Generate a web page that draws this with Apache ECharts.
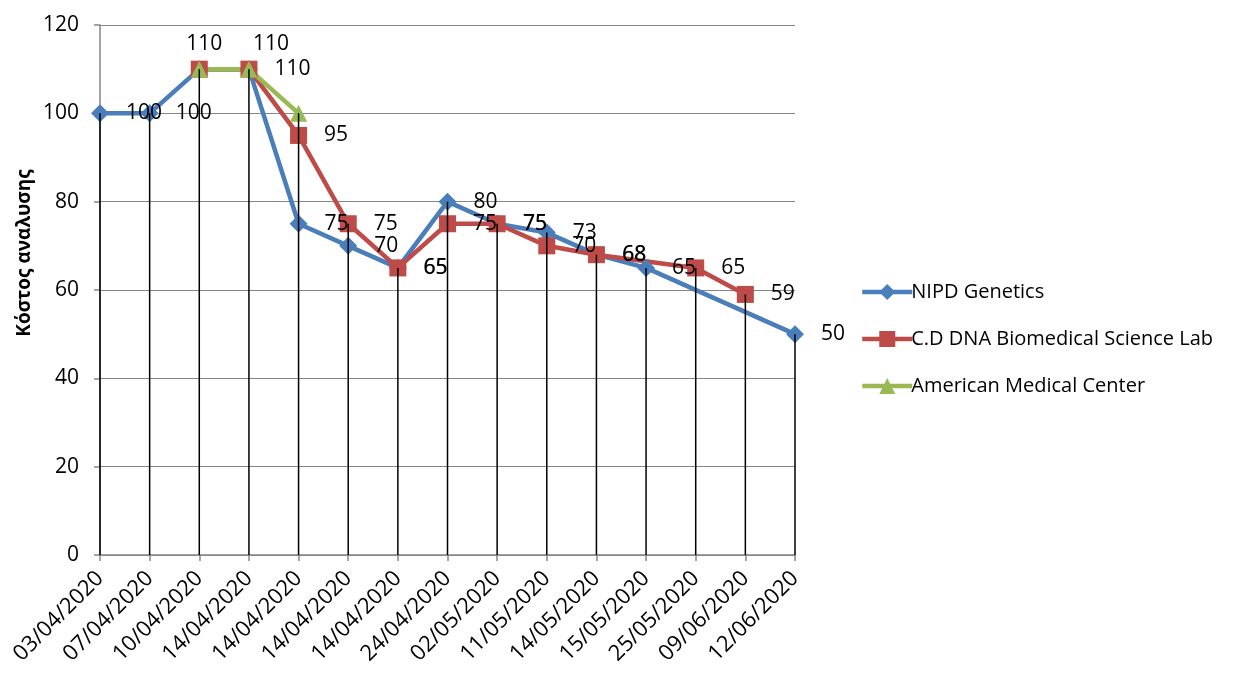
<!DOCTYPE html>
<html>
<head>
<meta charset="utf-8">
<script src="https://cdn.jsdelivr.net/npm/echarts@6/dist/echarts.min.js"></script>
<style>
  html, body { margin: 0; padding: 0; background: #fff; }
  #chart { width: 1241px; height: 673px; }
</style>
</head>
<body>
<div id="chart"></div>
<script>
// dates on the x axis
const categories = ['03/04/2020', '07/04/2020', '10/04/2020', '14/04/2020', '14/04/2020',
  '14/04/2020', '14/04/2020', '24/04/2020', '02/05/2020', '11/05/2020',
  '14/05/2020', '15/05/2020', '25/05/2020', '09/06/2020', '12/06/2020'];

const nipdGenetics = [100, 100, 110, 110, 75, 70, 65, 80, 75, 73, 68, 65, null, null, 50];
const cdDnaLab = [null, null, 110, 110, 95, 75, 65, 75, 75, 70, 68, null, 65, 59, null];
const americanMedical = [null, null, 110, 110, 100, null, null, null, null, null, null, null, null, null, null];

const yTicks = [0, 20, 40, 60, 80, 100, 120];

const FONT = '"Open Sans", "Noto Sans", sans-serif';

// max of the three series at each date -> drop line top
const dropTops = categories.map(function (c, i) {
  const vals = [nipdGenetics[i], cdDnaLab[i], americanMedical[i]].filter(v => v != null);
  return [i, Math.max.apply(null, vals)];
});

function withLabels(values, hidden, tops) {
  return values.map(function (v, i) {
    if (v == null) return null;
    const item = { value: v };
    if (hidden.indexOf(i) >= 0) {
      item.label = { show: false };
    } else if (tops[i]) {
      item.label = { position: 'top', distance: 6, offset: tops[i] };
    }
    return item;
  });
}

const chart = echarts.init(document.getElementById('chart'));

const labelStyle = {
  show: true,
  position: 'right',
  distance: 17,
  color: '#000',
  fontFamily: FONT,
  fontSize: 21
};

const option = {
  animation: false,
  grid: {
    left: 100,
    right: 446,
    top: 25,
    bottom: 118
  },
  legend: {
    orient: 'vertical',
    left: 855,
    top: 277,
    itemWidth: 50,
    itemHeight: 20,
    itemGap: 27,
    data: ['NIPD Genetics', 'C.D DNA Biomedical Science Lab', 'American Medical Center'],
    lineStyle: { width: 4.5 },
    textStyle: {
      color: '#000',
      fontFamily: FONT,
      fontSize: 20,
      padding: [0, 0, 0, -6]
    }
  },
  graphic: [{
    type: 'text',
    x: 25,
    y: 253,
    rotation: Math.PI / 2,
    style: {
      text: 'Κόστος αναλυσης',
      fill: '#000',
      font: 'bold 19px ' + FONT,
      align: 'center',
      verticalAlign: 'middle'
    }
  }],
  xAxis: {
    type: 'category',
    data: categories,
    boundaryGap: false,
    axisLine: { lineStyle: { color: '#868686', width: 1.5 } },
    axisTick: { show: true, length: 6, interval: 0, lineStyle: { color: '#868686', width: 1.5 } },
    axisLabel: {
      interval: 0,
      rotate: 45,
      margin: 20,
      color: '#000',
      fontFamily: FONT,
      fontSize: 22
    },
    splitLine: { show: false }
  },
  yAxis: {
    type: 'value',
    min: yTicks[0],
    max: yTicks[yTicks.length - 1],
    interval: 20,
    axisLine: { show: true, lineStyle: { color: '#868686', width: 1.5 } },
    axisTick: { show: true, length: 6, lineStyle: { color: '#868686', width: 1.5 } },
    axisLabel: {
      margin: 21,
      color: '#000',
      fontFamily: FONT,
      fontSize: 21
    },
    splitLine: { lineStyle: { color: '#868686', width: 1.2 } }
  },
  series: [
    {
      name: 'NIPD Genetics',
      type: 'line',
      data: withLabels(nipdGenetics, [], { 2: [5, 0], 3: [22, 0] }),
      connectNulls: true,
      symbol: 'diamond',
      symbolSize: 18,
      color: '#4A7EBB',
      lineStyle: { width: 4.5, color: '#4A7EBB' },
      itemStyle: { color: '#4A7EBB' },
      label: labelStyle
    },
    {
      name: 'C.D DNA Biomedical Science Lab',
      type: 'line',
      data: withLabels(cdDnaLab, [2], {}),
      connectNulls: true,
      symbol: 'rect',
      symbolSize: 17,
      color: '#BE4B48',
      lineStyle: { width: 4.5, color: '#BE4B48' },
      itemStyle: { color: '#BE4B48' },
      label: labelStyle
    },
    {
      name: 'American Medical Center',
      type: 'line',
      data: americanMedical,
      connectNulls: true,
      symbol: 'triangle',
      symbolSize: 17,
      color: '#98B954',
      lineStyle: { width: 4.5, color: '#98B954' },
      itemStyle: { color: '#98B954' },
      label: { show: false }
    },
    {
      name: 'drop',
      type: 'custom',
      z: 10,
      silent: true,
      data: dropTops,
      renderItem: function (params, api) {
        const top = api.coord([api.value(0), api.value(1)]);
        const base = api.coord([api.value(0), 0]);
        return {
          type: 'line',
          shape: { x1: top[0], y1: top[1], x2: base[0], y2: base[1] },
          style: { stroke: '#000', lineWidth: 1.5 }
        };
      }
    }
  ]
};

chart.setOption(option);
</script>
</body>
</html>
